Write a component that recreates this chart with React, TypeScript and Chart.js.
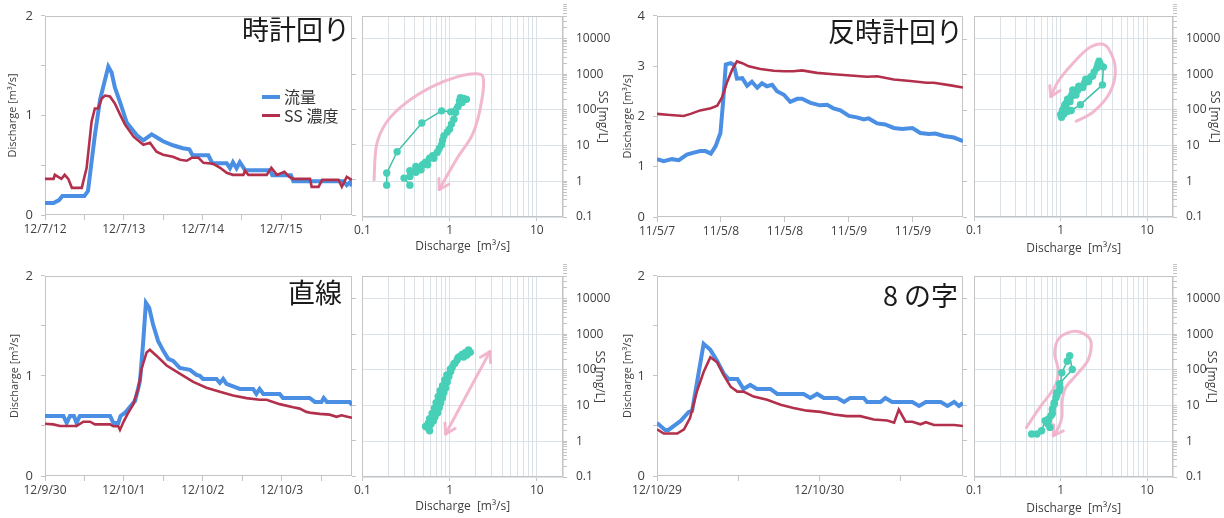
import React, { useEffect, useRef } from "react";
import { Chart, registerables } from "chart.js";

Chart.register(...registerables);

// ---------------- Panel 1 : 時計回り ----------------
const p1QHours = [0, 2.6, 4.3, 5.3, 12, 13.1, 15.2, 16.8, 19.3, 20.3, 21.3, 22.9, 24.9, 28, 30, 32.5, 34, 36, 39, 42, 44, 45, 49.8, 51, 55.4, 56.4, 57.3, 58.4, 59.4, 61, 68.6, 69.3, 75, 75.7, 91, 92, 93, 93.6];
const p1Q = [0.12, 0.12, 0.15, 0.19, 0.19, 0.24, 0.8, 1.16, 1.49, 1.43, 1.28, 1.13, 0.93, 0.8, 0.75, 0.81, 0.78, 0.74, 0.7, 0.67, 0.66, 0.6, 0.6, 0.52, 0.52, 0.47, 0.53, 0.47, 0.53, 0.45, 0.45, 0.4, 0.4, 0.34, 0.34, 0.3, 0.33, 0.29];
const p1SSHours = [0, 2.6, 3, 5, 6, 7.1, 8.2, 11.2, 12.7, 14.2, 15.2, 16.2, 17.3, 18.3, 19.8, 21.3, 22.9, 24.4, 27, 30, 32, 34, 36, 39, 41.2, 43.2, 44.7, 46.8, 48.3, 51.3, 53.4, 55.4, 57.3, 60.5, 61, 62, 67.6, 69, 70.7, 73, 74.5, 75.7, 80.8, 81.3, 83.4, 84.5, 89.5, 90.5, 92, 93.6];
const p1SS = [1.06, 1.06, 1.38, 1.06, 1.38, 1.06, 0.59, 0.59, 2.19, 44.7, 105, 105, 202, 245, 231, 146, 70.8, 36.7, 16.7, 9.9, 11.3, 6.25, 5.13, 4.5, 3.69, 3.46, 4.21, 4.21, 3.03, 2.84, 2.19, 1.57, 1.38, 1.38, 1.79, 1.38, 1.38, 2.19, 1.38, 1.68, 1.21, 1.06, 1.06, 0.63, 0.63, 0.99, 0.99, 0.63, 1.21, 0.99];
const p1TickHours = [0, 12, 24, 36, 48, 60, 72, 84];
const p1LabelHours = [0, 24, 48, 72];
const p1Labels = ["12/7/12", "12/7/13", "12/7/14", "12/7/15"];
const s1Q = [0.19, 0.19, 0.25, 0.48, 0.81, 1.03, 1.3, 1.33, 1.56, 1.45, 1.39, 1.25, 1.17, 1.12, 1.05, 1.0, 0.94, 0.86, 0.83, 0.81, 0.76, 0.72, 0.64, 0.66, 0.59, 0.53, 0.56, 0.49, 0.47, 0.41, 0.41, 0.35, 0.35, 0.3, 0.35];
const s1SS = [0.78, 1.7, 6.7, 43, 94, 88, 178, 219, 197, 210, 160, 124, 85, 55, 40, 29, 24, 18.5, 14, 10.6, 8.3, 6.4, 5.2, 4.4, 4.4, 3.4, 2.9, 2.9, 2.1, 2.6, 1.8, 1.97, 1.37, 1.23, 0.78];
const a1 = [[0.136, 1.1], [0.145, 10.2], [0.189, 45], [0.318, 159], [0.64, 456], [1.27, 866], [2.06, 1020], [2.45, 700], [2.24, 105], [1.81, 19.3], [1.22, 4.4], [0.76, 0.59]];

// ---------------- Panel 2 : 反時計回り ----------------
const p2QHours = [0, 1.25, 2.8, 4.1, 5.6, 6.9, 8.1, 9.1, 10.1, 11, 11.9, 12.4, 12.9, 13.8, 14.4, 15, 16, 16.9, 17.8, 18.8, 19.7, 20.6, 21.6, 22.5, 23.8, 25, 26.3, 27.2, 28.8, 30.6, 31.9, 33.1, 34.4, 36, 37.5, 38.8, 39.7, 41.3, 42.8, 44.4, 46, 47.9, 49.4, 51, 52.2, 53.8, 55.7, 57.4];
const p2Q = [1.15, 1.11, 1.15, 1.13, 1.24, 1.28, 1.31, 1.31, 1.26, 1.41, 1.67, 2.29, 3.03, 3.06, 3.03, 2.75, 2.76, 2.61, 2.69, 2.57, 2.66, 2.6, 2.63, 2.5, 2.43, 2.29, 2.35, 2.35, 2.27, 2.22, 2.23, 2.16, 2.12, 2.01, 1.98, 1.94, 1.96, 1.86, 1.84, 1.77, 1.75, 1.77, 1.67, 1.65, 1.66, 1.61, 1.58, 1.51];
const p2SSHours = [0, 1.9, 5, 6.3, 8.1, 10.1, 11.3, 12.2, 13.1, 14.1, 15, 16, 17.2, 19.4, 21.9, 23.8, 25.6, 27.2, 30, 33.1, 36.3, 39.4, 41.3, 44.4, 47.5, 50.6, 51.9, 55.1, 57.4];
const p2SS = [79, 75, 69, 79, 99, 114, 135, 229, 590, 1380, 2350, 2100, 1710, 1440, 1290, 1240, 1240, 1320, 1120, 1030, 950, 870, 900, 733, 661, 590, 590, 500, 433];
const p2TickHours = [0, 12, 24, 36, 48];
const p2LabelHours = [0, 12, 24, 36, 48];
const p2Labels = ["11/5/7", "11/5/8", "11/5/8", "11/5/9", "11/5/9"];
const s2Q = [1.02, 1.32, 1.69, 3.04, 3.12, 2.78, 2.85, 2.62, 2.7, 2.44, 2.35, 2.24, 2.1, 2.05, 1.95, 1.88, 1.8, 1.72, 1.62, 1.58, 1.5, 1.38, 1.44, 1.32, 1.36, 1.28, 1.23, 1.16, 1.2, 1.15, 1.11, 1.06, 1.12, 1.21, 1.09, 1.0, 1.05];
const s2SS = [62, 96, 140, 500, 1600, 2290, 1970, 1500, 1900, 1160, 900, 850, 620, 688, 720, 555, 420, 448, 460, 363, 260, 363, 294, 237, 280, 170, 192, 155, 200, 120, 125, 101, 140, 91, 77, 74, 95];
const a2 = [[1.51, 48], [2.43, 91], [3.76, 325], [4.29, 1430], [3.6, 5100], [2.9, 7000], [2.05, 5100], [1.32, 1770], [0.93, 615], [0.77, 236]];

// ---------------- Panel 3 : 直線 ----------------
const p3QHours = [0, 5.6, 6.6, 7.6, 8.8, 9.6, 10.6, 19.8, 20.8, 22.3, 23, 24.3, 25.8, 27.4, 28.9, 29.9, 30.7, 31.7, 32.9, 34.4, 36, 37.5, 39, 41, 44.1, 46.1, 47.1, 48.1, 52.2, 53.2, 54.2, 55.2, 59.3, 63.3, 64.3, 65.3, 66.4, 67.4, 71.4, 72.4, 80.5, 82.1, 84.1, 84.8, 85.8, 92.7, 93.4];
const p3Q = [0.6, 0.6, 0.53, 0.6, 0.6, 0.53, 0.6, 0.6, 0.53, 0.53, 0.6, 0.63, 0.69, 0.75, 0.95, 1.35, 1.73, 1.68, 1.51, 1.35, 1.25, 1.17, 1.15, 1.08, 1.06, 1.01, 1.0, 0.97, 0.97, 0.93, 0.97, 0.92, 0.87, 0.87, 0.82, 0.87, 0.82, 0.82, 0.82, 0.78, 0.78, 0.74, 0.74, 0.78, 0.74, 0.74, 0.71];
const p3SSHours = [0, 2.5, 4.6, 9.6, 11.7, 13.7, 15.2, 19.8, 20.8, 22.3, 22.8, 24, 25.3, 26.8, 28.4, 29.4, 30.9, 31.9, 33.9, 37, 41, 45.1, 49.1, 53.2, 57.2, 61.3, 65.3, 67.4, 71.4, 75.5, 77.5, 79.5, 81.1, 83.6, 86.6, 88.7, 90.2, 91.7, 93.4];
const p3SS = [3.0, 2.87, 2.59, 2.59, 3.41, 3.41, 2.87, 2.87, 2.53, 2.53, 2.0, 3.56, 6.05, 10.3, 29.9, 107, 309, 366, 250, 132, 77.6, 45.6, 31.1, 24.1, 18.7, 15.8, 14.2, 14.2, 10.7, 8.7, 8.0, 6.46, 6.05, 5.68, 5.4, 4.69, 5.2, 4.8, 4.4];
const p3TickHours = [0, 12, 24, 36, 48, 60, 72, 84];
const p3LabelHours = [0, 24, 48, 72];
const p3Labels = ["12/9/30", "12/10/1", "12/10/2", "12/10/3"];
const s3Q = [0.56, 0.59, 0.61, 0.65, 0.68, 0.73, 0.76, 0.79, 0.83, 0.86, 0.9, 0.94, 0.98, 1.03, 1.07, 1.15, 1.22, 1.3, 1.39, 1.52, 1.65, 1.73, 1.58, 1.45, 1.25, 1.12, 1.02, 0.93, 0.88, 0.83, 0.78, 0.74, 0.7, 0.67, 0.63, 0.59, 0.57, 0.53];
const s3SS = [2.44, 1.97, 3.0, 3.7, 4.8, 6.3, 8.7, 12, 16.5, 22.7, 31, 45.6, 65, 90, 117, 154, 190, 235, 272, 310, 360, 310, 260, 230, 220, 150, 105, 72, 52, 36, 26, 18, 12, 8.5, 6, 4.3, 3.2, 2.6];
const a3 = [[0.9, 1.6], [2.9, 324]];

// ---------------- Panel 4 : 8の字 ----------------
const p4QHours = [0, 1.2, 1.7, 3.5, 4.7, 5.2, 6.9, 7.9, 8.9, 9.9, 10.6, 11.9, 12.8, 13.8, 14.8, 16.8, 17.8, 21.7, 22.7, 23.7, 24.7, 26.7, 27.7, 28.6, 30.6, 31.1, 33.1, 33.8, 34.8, 37.8, 38.8, 39.8, 42, 43, 44, 44.7, 45.3];
const p4Q = [0.53, 0.46, 0.46, 0.55, 0.64, 0.65, 1.32, 1.26, 1.15, 1.02, 0.97, 0.97, 0.87, 0.91, 0.87, 0.87, 0.82, 0.82, 0.78, 0.82, 0.78, 0.78, 0.74, 0.78, 0.78, 0.74, 0.74, 0.78, 0.74, 0.74, 0.7, 0.74, 0.74, 0.7, 0.74, 0.7, 0.73];
const p4SSHours = [0, 1, 3, 4, 4.9, 5.9, 6.9, 7.9, 8.9, 9.9, 10.9, 11.9, 12.8, 14.3, 16.3, 18.3, 20.2, 22.2, 24.2, 26.2, 28.1, 30.1, 32.1, 34.1, 35.1, 35.8, 36.8, 37.8, 39, 39.8, 41, 44, 45.3];
const p4SS = [2.09, 1.58, 1.58, 2.09, 4.4, 24.1, 86.3, 225, 163, 69.8, 33.2, 24.1, 24.1, 17.5, 14.2, 10.3, 8.32, 7.0, 6.46, 5.44, 4.9, 4.9, 3.95, 3.7, 3.2, 7.48, 3.41, 3.41, 2.88, 3.3, 2.75, 2.75, 2.59];
const p4TickHours = [0, 12, 24, 36];
const p4LabelHours = [0, 24];
const p4Labels = ["12/10/29", "12/10/30"];
const s4Q = [0.46, 0.53, 0.6, 0.66, 0.72, 0.77, 0.8, 0.84, 0.88, 0.9, 0.96, 0.98, 1.03, 1.19, 1.27, 1.36, 0.97, 0.9, 0.84, 0.8, 0.75, 0.71];
const s4SS = [1.6, 1.6, 1.98, 3.75, 4.2, 5.2, 7.9, 10.9, 16.7, 23, 25.5, 32, 83, 174, 250, 102, 41, 20, 12, 6, 2.45, 3.03];
const a4 = [[0.4, 2.45], [0.57, 8.8], [0.84, 31.6], [0.94, 92], [0.85, 300], [0.98, 820], [1.5, 1200], [2.2, 700], [2.1, 200], [1.5, 70], [1.14, 31.6], [1.04, 13.5], [1.03, 4.6], [0.92, 2.2], [0.82, 1.44]];

// ---------------- styling ----------------
const BLUE = "#4a8fe3";
const RED = "#b3304c";
const TEAL = "#47cfb7";
const TEAL_LINE = "#3cbfa6";
const PINK = "rgba(241,176,202,0.9)";
const GRID = "#dbe2e7";
const FRAME = "#c4c4c4";
const TEXT = "#404040";
const FONT = "'Open Sans', 'Noto Sans CJK JP', sans-serif";
const JP = "'Noto Sans CJK JP', 'Noto Sans', sans-serif";

Chart.defaults.font.family = FONT;
Chart.defaults.color = TEXT;

const LOG_X_TICKS: number[] = [];
[0.1, 1, 10].forEach((d) => { for (let k = 1; k <= 9; k++) LOG_X_TICKS.push(+(d * k).toFixed(6)); });
LOG_X_TICKS.length = LOG_X_TICKS.indexOf(20) + 1;
const LOG_Y_TICKS: number[] = [];
[0.1, 1, 10, 100, 1000, 10000].forEach((d) => { for (let k = 1; k <= 9; k++) LOG_Y_TICKS.push(+(d * k).toFixed(6)); });
const DECADES = [0.1, 1, 10, 100, 1000, 10000];

const isDecade = (v: number) => Math.abs(Math.log10(v) - Math.round(Math.log10(v))) < 1e-6;
const pairs = (xs: number[], ys: number[]) => xs.map((x, i) => ({ x, y: ys[i] }));

type Box = { left: number; top: number; w: number; h: number; l: number; t: number; r: number; b: number };

const PANELS = [
  {
    qh: p1QHours, q: p1Q, sh: p1SSHours, ss: p1SS, ticks: p1TickHours, labelHours: p1LabelHours, labels: p1Labels,
    xMax: 93.6, yMax: 2, yTicks: [0, 0.5, 1, 1.5, 2], sq: s1Q, sss: s1SS, arrows: [a1], dbl: false,
    line: { left: 0, top: 0, w: 360, h: 260, l: 45, t: 12, r: 352, b: 215 }, yTitlePad: 6.4,
    sc: { left: 352, top: 0, w: 260, h: 260, l: 360, t: 13, r: 563, b: 217 }, scYPad: 2, scXPad: 5.8,
  },
  {
    qh: p2QHours, q: p2Q, sh: p2SSHours, ss: p2SS, ticks: p2TickHours, labelHours: p2LabelHours, labels: p2Labels,
    xMax: 57.4, yMax: 4, yTicks: [0, 1, 2, 3, 4], sq: s2Q, sss: s2SS, arrows: [a2], dbl: false,
    line: { left: 612, top: 0, w: 360, h: 260, l: 657, t: 13, r: 963, b: 217 }, yTitlePad: 9.4,
    sc: { left: 964, top: 0, w: 260, h: 260, l: 972, t: 14, r: 1173, b: 217 }, scYPad: 2.8, scXPad: 4.5,
  },
  {
    qh: p3QHours, q: p3Q, sh: p3SSHours, ss: p3SS, ticks: p3TickHours, labelHours: p3LabelHours, labels: p3Labels,
    xMax: 93.4, yMax: 2, yTicks: [0, 0.5, 1, 1.5, 2], sq: s3Q, sss: s3SS, arrows: [a3], dbl: true,
    line: { left: 0, top: 260, w: 360, h: 258, l: 45, t: 274, r: 352, b: 476 }, yTitlePad: 8.4,
    sc: { left: 352, top: 260, w: 260, h: 258, l: 359, t: 274, r: 563, b: 477 }, scYPad: 5.8, scXPad: 4.1,
  },
  {
    qh: p4QHours, q: p4Q, sh: p4SSHours, ss: p4SS, ticks: p4TickHours, labelHours: p4LabelHours, labels: p4Labels,
    xMax: 45.3, yMax: 2, yTicks: [0, 0.5, 1, 1.5, 2], sq: s4Q, sss: s4SS, arrows: [a4], dbl: false,
    line: { left: 612, top: 260, w: 360, h: 258, l: 657, t: 274, r: 963, b: 476 }, yTitlePad: 9.4,
    sc: { left: 964, top: 260, w: 260, h: 258, l: 971, t: 274, r: 1173, b: 477 }, scYPad: 5.8, scXPad: 2.5,
  },
];

const framePlugin = {
  id: "frame",
  beforeDatasetsDraw(chart: any) {
    const { ctx, chartArea: a } = chart;
    ctx.save();
    ctx.strokeStyle = FRAME;
    ctx.lineWidth = 1;
    ctx.strokeRect(Math.round(a.left) + 0.5, Math.round(a.top) + 0.5, Math.round(a.right - a.left) - 1, Math.round(a.bottom - a.top) - 1);
    ctx.restore();
  },
};

function head(ctx: any, from: number[], to: number[]) {
  const ang = Math.atan2(to[1] - from[1], to[0] - from[0]);
  const L = 11, A = 0.55;
  ctx.beginPath();
  ctx.moveTo(to[0] - L * Math.cos(ang - A), to[1] - L * Math.sin(ang - A));
  ctx.lineTo(to[0], to[1]);
  ctx.lineTo(to[0] - L * Math.cos(ang + A), to[1] - L * Math.sin(ang + A));
  ctx.stroke();
}

function arrowPlugin(paths: number[][][], dbl: boolean) {
  return {
    id: "pinkArrows",
    beforeDatasetsDraw(chart: any) {
      const { ctx } = chart;
      const xs = chart.scales.x, ys = chart.scales.y;
      ctx.save();
      ctx.strokeStyle = PINK;
      ctx.lineWidth = 3;
      ctx.lineCap = "round";
      ctx.lineJoin = "round";
      for (const path of paths) {
        const pts = path.map(([q, s]) => [xs.getPixelForValue(q), ys.getPixelForValue(s)]);
        let firstC1 = pts[1];
        let lastC2 = pts[0];
        ctx.beginPath();
        ctx.moveTo(pts[0][0], pts[0][1]);
        if (pts.length === 2) {
          ctx.lineTo(pts[1][0], pts[1][1]);
        } else {
          for (let i = 0; i < pts.length - 1; i++) {
            const p0 = pts[Math.max(0, i - 1)], p1 = pts[i], p2 = pts[i + 1], p3 = pts[Math.min(pts.length - 1, i + 2)];
            const c1 = [p1[0] + (p2[0] - p0[0]) / 6, p1[1] + (p2[1] - p0[1]) / 6];
            const c2 = [p2[0] - (p3[0] - p1[0]) / 6, p2[1] - (p3[1] - p1[1]) / 6];
            ctx.bezierCurveTo(c1[0], c1[1], c2[0], c2[1], p2[0], p2[1]);
            if (i === 0) firstC1 = c1;
            if (i === pts.length - 2) lastC2 = c2;
          }
        }
        ctx.stroke();
        head(ctx, lastC2, pts[pts.length - 1]);
        if (dbl) head(ctx, firstC1, pts[0]);
      }
      ctx.restore();
    },
  };
}

function lineConfig(p: any) {
  const bx: Box = p.line;
  return {
    type: "line",
    data: {
      datasets: [
        { label: "SS 濃度", data: pairs(p.sh, p.ss), yAxisID: "y2", borderColor: RED, borderWidth: 2.6, pointRadius: 0, tension: 0, order: 0 },
        { label: "流量", data: pairs(p.qh, p.q), yAxisID: "y", borderColor: BLUE, borderWidth: 4, pointRadius: 0, tension: 0, order: 1 },
      ],
    },
    options: {
      responsive: false,
      animation: false,
      layout: { padding: { top: bx.t - bx.top, left: 0, right: 0, bottom: 0 } },
      plugins: { legend: { display: false }, tooltip: { enabled: false } },
      scales: {
        x: {
          type: "linear", min: 0, max: p.xMax,
          afterBuildTicks: (s: any) => { s.ticks = p.ticks.map((v: number) => ({ value: v })); },
          ticks: {
            autoSkip: false, maxRotation: 0, padding: 2, color: TEXT, font: { size: 12 },
            callback: (v: number) => { const i = p.labelHours.indexOf(v); return i >= 0 ? p.labels[i] : ""; },
          },
          grid: { drawOnChartArea: false, tickLength: 5, color: FRAME },
          border: { display: false },
          afterFit: (s: any) => { s.height = bx.top + bx.h - bx.b; },
        },
        y: {
          type: "linear", position: "left", min: 0, max: p.yMax,
          afterBuildTicks: (s: any) => { s.ticks = p.yTicks.map((v: number) => ({ value: v })); },
          ticks: { padding: 8, color: TEXT, font: { size: 13 }, callback: (v: number) => (Number.isInteger(v) ? String(v) : "") },
          grid: { drawOnChartArea: false, tickLength: 4, color: FRAME },
          border: { display: false },
          title: { display: true, text: "Discharge [m³/s]", color: TEXT, font: { size: 11 }, padding: { top: p.yTitlePad, bottom: 0 } },
          afterFit: (s: any) => { s.width = bx.l - bx.left; },
        },
        y2: {
          type: "logarithmic", position: "right", min: 0.1, max: 45000,
          afterBuildTicks: (s: any) => { s.ticks = DECADES.map((v) => ({ value: v })); },
          ticks: { display: false },
          grid: { drawOnChartArea: false, tickLength: 4, color: FRAME },
          border: { display: false },
          afterFit: (s: any) => { s.width = bx.left + bx.w - bx.r; },
        },
      },
    },
    plugins: [framePlugin],
  };
}

function scatterConfig(p: any) {
  const bx: Box = p.sc;
  return {
    type: "scatter",
    data: {
      datasets: [
        {
          data: pairs(p.sq, p.sss), showLine: true, borderColor: TEAL_LINE, borderWidth: 1.5,
          pointRadius: 3.7, pointBackgroundColor: TEAL, pointBorderColor: TEAL, pointBorderWidth: 0, tension: 0,
        },
      ],
    },
    options: {
      responsive: false,
      animation: false,
      layout: { padding: { top: bx.t - bx.top, left: bx.l - bx.left, right: 0, bottom: 0 } },
      plugins: { legend: { display: false }, tooltip: { enabled: false } },
      scales: {
        x: {
          type: "logarithmic", min: 0.1, max: 20,
          afterBuildTicks: (s: any) => { s.ticks = LOG_X_TICKS.map((v) => ({ value: v })); },
          ticks: {
            autoSkip: false, maxRotation: 0, padding: 2, color: TEXT, font: { size: 12 },
            callback: (v: number) => (isDecade(v) ? String(v) : ""),
          },
          grid: {
            color: GRID, tickLength: 4,
            tickColor: (c: any) => (c.tick && isDecade(c.tick.value) ? FRAME : "rgba(0,0,0,0)"),
          },
          border: { display: false },
          title: { display: true, text: "Discharge  [m³/s]", color: TEXT, font: { size: 12 }, padding: { top: 0, bottom: p.scXPad } },
          afterFit: (s: any) => { s.height = bx.top + bx.h - bx.b; },
        },
        y: {
          type: "logarithmic", position: "right", min: 0.1, max: 42000,
          afterBuildTicks: (s: any) => { s.ticks = LOG_Y_TICKS.map((v) => ({ value: v })); },
          ticks: {
            autoSkip: false, padding: 9, color: TEXT, font: { size: 12 },
            callback: (v: number) => (isDecade(v) ? String(v) : ""),
          },
          grid: {
            color: (c: any) => (c.tick && isDecade(c.tick.value) ? GRID : "rgba(0,0,0,0)"),
            tickColor: FRAME, tickLength: 4,
          },
          border: { display: false },
          title: { display: true, text: "SS [mg/L]", color: TEXT, font: { size: 12 }, padding: { top: p.scYPad, bottom: 0 } },
          afterFit: (s: any) => { s.width = bx.left + bx.w - bx.r; },
        },
      },
    },
    plugins: [framePlugin, arrowPlugin(p.arrows, p.dbl)],
  };
}

const TITLES = [
  { text: "時計回り", left: 242, top: 14 },
  { text: "反時計回り", left: 828, top: 16 },
  { text: "直線", left: 288, top: 277 },
  { text: "8 の字", left: 883, top: 280 },
];

export default function App() {
  const refs = useRef<(HTMLCanvasElement | null)[]>([]);
  useEffect(() => {
    const charts: Chart[] = [];
    PANELS.forEach((p, i) => {
      charts.push(new Chart(refs.current[i * 2] as HTMLCanvasElement, lineConfig(p) as any));
      charts.push(new Chart(refs.current[i * 2 + 1] as HTMLCanvasElement, scatterConfig(p) as any));
    });
    return () => charts.forEach((c) => c.destroy());
  }, []);

  return (
    <div style={{ position: "absolute", left: 0, top: 0, width: 1224, height: 518, background: "#fff", overflow: "hidden" }}>
      {PANELS.map((p, i) => (
        <React.Fragment key={i}>
          <canvas
            ref={(el) => { refs.current[i * 2] = el; }}
            width={p.line.w}
            height={p.line.h}
            style={{ position: "absolute", left: p.line.left, top: p.line.top, width: p.line.w, height: p.line.h }}
          />
          <canvas
            ref={(el) => { refs.current[i * 2 + 1] = el; }}
            width={p.sc.w}
            height={p.sc.h}
            style={{ position: "absolute", left: p.sc.left, top: p.sc.top, width: p.sc.w, height: p.sc.h }}
          />
        </React.Fragment>
      ))}
      {TITLES.map((t, i) => (
        <div key={i} style={{ position: "absolute", left: t.left, top: t.top, fontFamily: JP, fontSize: 27, lineHeight: "30px", color: "#1a1a1a", whiteSpace: "nowrap" }}>
          {t.text}
        </div>
      ))}
      <div style={{ position: "absolute", left: 262, top: 95, width: 18, height: 4, background: BLUE }} />
      <div style={{ position: "absolute", left: 284, top: 86, fontFamily: JP, fontSize: 16, lineHeight: "20px", color: "#333", whiteSpace: "nowrap" }}>流量</div>
      <div style={{ position: "absolute", left: 262, top: 114, width: 18, height: 3, background: RED }} />
      <div style={{ position: "absolute", left: 284, top: 105, fontFamily: JP, fontSize: 16, lineHeight: "20px", color: "#333", whiteSpace: "nowrap" }}>SS 濃度</div>
    </div>
  );
}
